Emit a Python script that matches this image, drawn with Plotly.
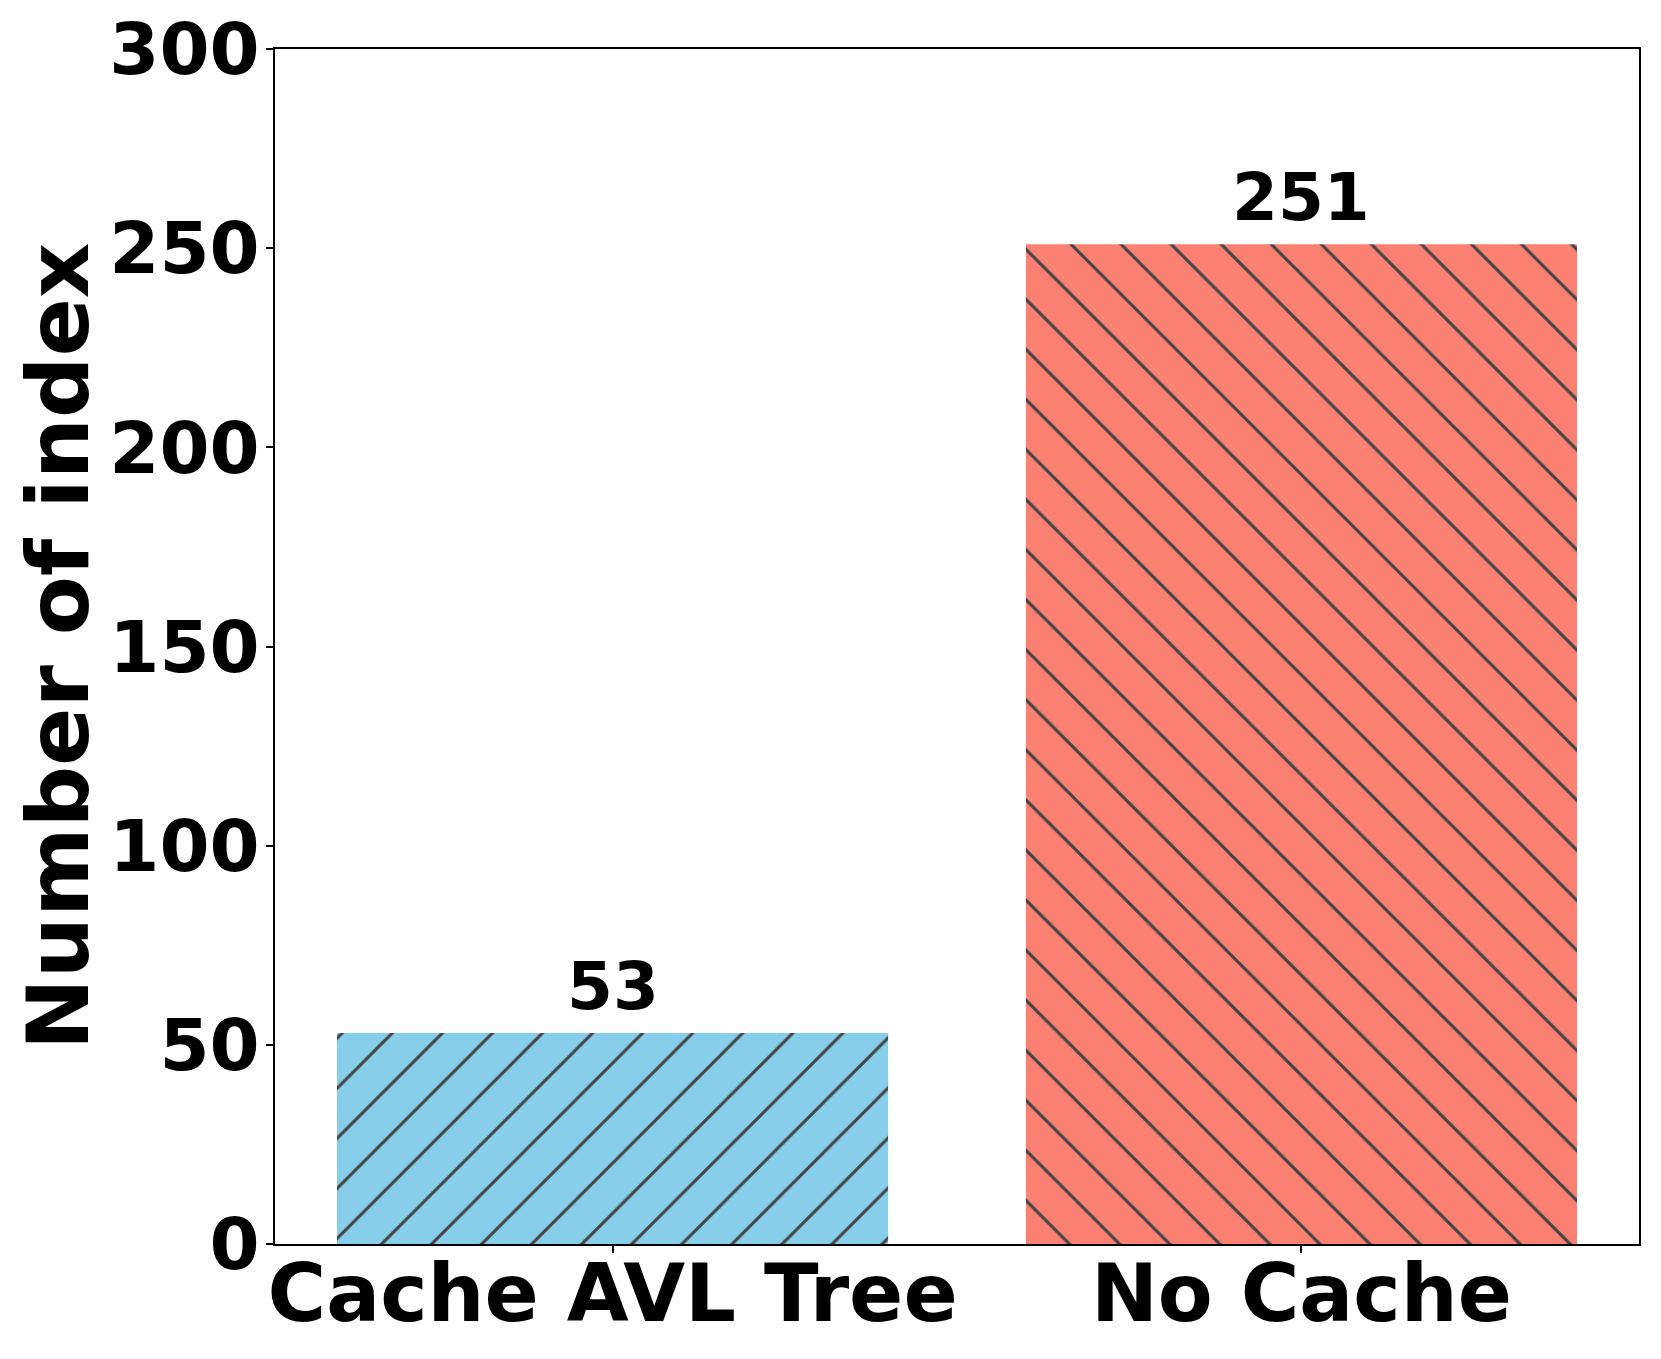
import plotly.graph_objects as go

categories = ["Cache AVL Tree", "No Cache"]
values = [53, 251]
colors = ["#87CEEB", "#FA8072"]
hatches = ["/", "\\"]
y_ticks = [0, 50, 100, 150, 200, 250, 300]

font = "DejaVu Sans"

fig = go.Figure()
fig.add_trace(go.Bar(
    x=categories,
    y=values,
    width=0.8,
    marker=dict(
        color=colors,
        line=dict(width=0),
        pattern=dict(shape=hatches, fgcolor="black", fgopacity=1, size=35.4, solidity=0.085,
                     fillmode="overlay"),
    ),
    showlegend=False,
))

# value labels above bars
for c, v in zip(categories, values):
    fig.add_annotation(x=c, y=v, text=str(v), showarrow=False, yanchor="bottom", yshift=6,
                       font=dict(family=font, size=66, color="black", weight="bold"))

# page body has an 8px margin, so margins are shifted by that
fig.update_layout(
    width=1661, height=1359,
    margin=dict(l=267, r=30, t=41, b=123),
    plot_bgcolor="white", paper_bgcolor="white",
    bargap=0.2,
)
fig.update_xaxes(
    range=[-0.49, 1.49], automargin=False,
    showline=True, linecolor="black", linewidth=2, mirror=True,
    ticks="outside", ticklen=7, tickwidth=2, tickcolor="black",
    tickfont=dict(family=font, size=80, color="black", weight="bold"),
    ticklabelstandoff=-28, ticklabeloverflow="allow",
    showgrid=False,
)
fig.update_yaxes(
    range=[0, 300], automargin=False,
    tickvals=y_ticks,
    showline=True, linecolor="black", linewidth=2, mirror=True,
    ticks="outside", ticklen=7, tickwidth=2, tickcolor="black",
    tickfont=dict(family=font, size=72, color="black", weight="bold"),
    ticklabelstandoff=-8, ticklabeloverflow="allow",
    showgrid=False, zeroline=False,
    title=dict(text="Number of index",
               font=dict(family=font, size=86, color="black", weight="bold")),
)

fig.write_html("out.html")
